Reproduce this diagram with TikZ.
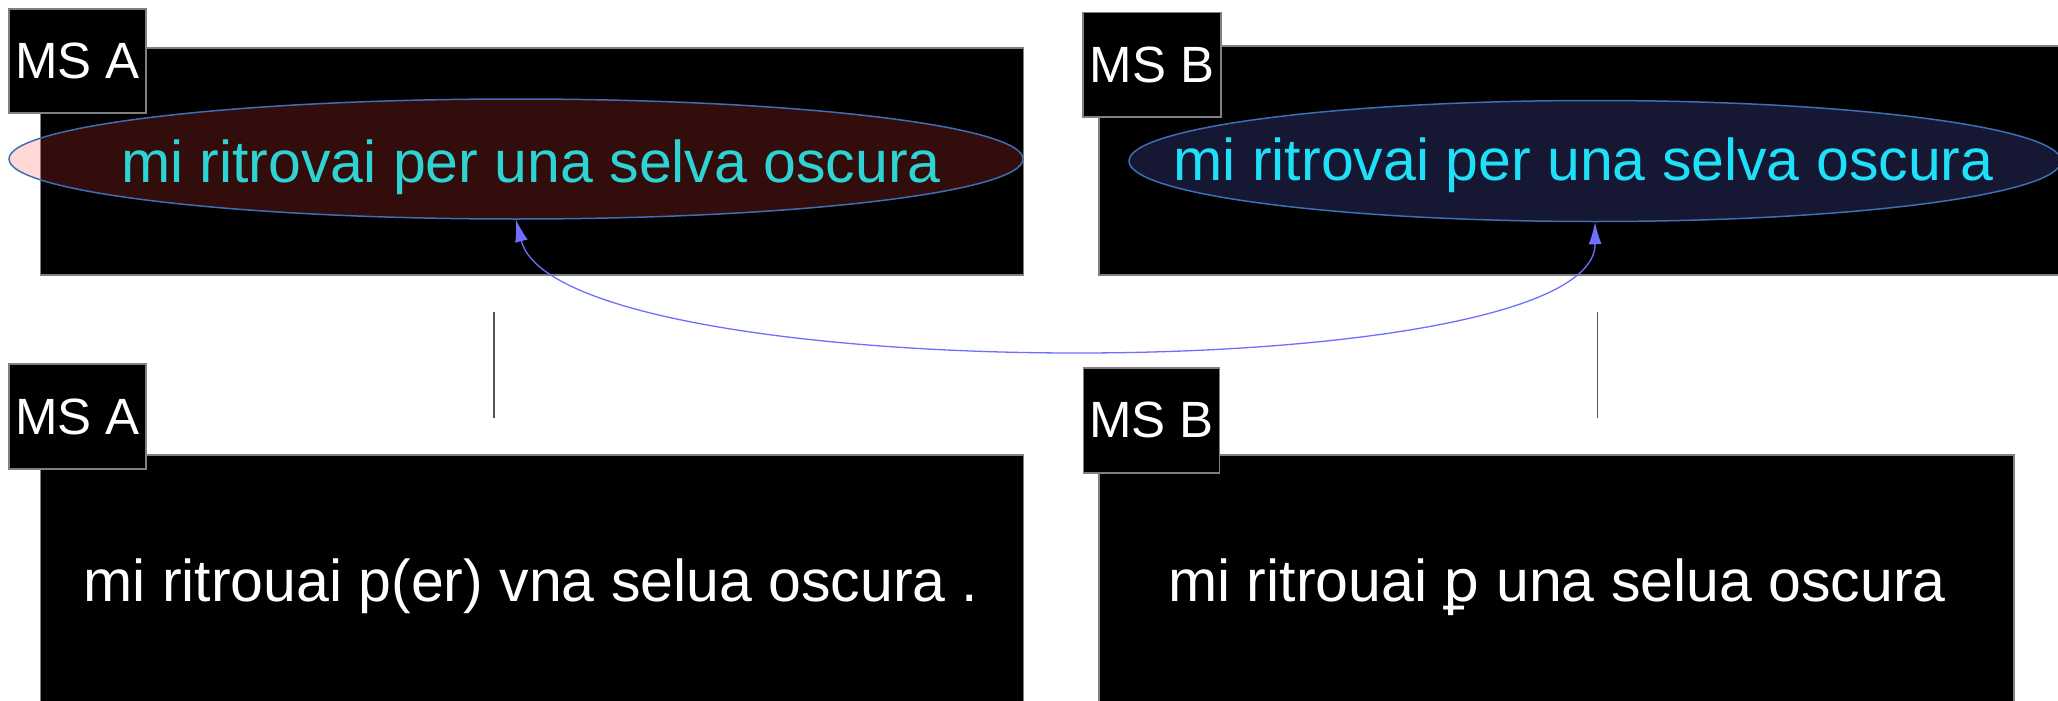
\documentclass[tikz,border=0pt]{standalone}
\usepackage{fontspec}
\setmainfont{Liberation Sans}
\newfontfamily\medfont{Noto Sans}
\usetikzlibrary{arrows.meta,shapes.geometric}

\definecolor{boxline}{RGB}{128,128,128}
\definecolor{ringline}{RGB}{61,111,181}
\definecolor{redfill}{RGB}{255,60,60}
\definecolor{bluefill}{RGB}{105,115,255}
\definecolor{textA}{RGB}{46,211,211}
\definecolor{textB}{RGB}{30,224,248}
\definecolor{linkline}{RGB}{110,110,255}
\definecolor{tickline}{RGB}{85,85,85}

\tikzset{
  panel/.style={draw=boxline, line width=1.5pt, fill=black, inner sep=0pt},
  tag/.style={draw=boxline, line width=1.5pt, fill=black, text=white, inner sep=0pt,
    font=\fontsize{51}{60}\selectfont},
  reading/.style={ellipse, draw=ringline, line width=1.5pt, fill opacity=0.2,
    text opacity=1, inner sep=0pt},
  verse/.style={anchor=base, inner sep=0pt, font=\fontsize{59}{70}\selectfont},
  link/.style={draw=linkline, line width=1.3pt,
    {Latex[length=22pt,width=13pt,fill=linkline]}-{Latex[length=22pt,width=13pt,fill=linkline]}},
  tick/.style={draw=tickline, line width=1.2pt}
}

\begin{document}
\begin{tikzpicture}[x=1pt, y=-1pt]
\useasboundingbox (0,0) rectangle (2058,701);
\clip (0,0) rectangle (2058,701);

% upper row: normalised readings
\node[panel, minimum width=983pt, minimum height=227pt] (pa) at (532,161.5) {};
\node[panel, minimum width=976pt, minimum height=229pt] (pb) at (1587,160.5) {};
\node[tag, minimum width=137pt, minimum height=104pt] (ta) at (77.5,61) {MS A};
\node[tag, minimum width=138pt, minimum height=104.5pt] (tb) at (1152,64.8) {MS B};
\node[reading, fill=redfill, minimum width=1014pt, minimum height=120pt] (ea) at (516,159) {};
\node[reading, fill=bluefill, minimum width=932pt, minimum height=121pt] (eb) at (1595,161) {};
\node[verse, text=textA] (va) at (531,182) {mi ritrovai per una selva oscura};
\node[verse, text=textB] (vb) at (1583.5,180) {mi ritrovai per una selva oscura};

% lower row: diplomatic transcriptions
\node[panel, minimum width=983pt, minimum height=265pt] (qa) at (532,587.5) {};
\node[panel, minimum width=915pt, minimum height=265pt] (qb) at (1556.5,587.5) {};
\node[tag, minimum width=137pt, minimum height=105pt] (sa) at (77.7,416.5) {MS A};
\node[tag, minimum width=136pt, minimum height=104.7pt] (sb) at (1151.5,420.4) {MS B};
\node[verse, text=white] (da) at (531,601) {mi ritrouai p(er) vna selua oscura .};
\node[verse, text=white] (db) at (1557,601) {mi ritrouai {\medfont ꝑ} una selua oscura};

% ties between the rows
\coordinate (ua) at (494,312);
\coordinate (la) at (494,418);
\coordinate (ub) at (1597.6,312);
\coordinate (lb) at (1597.6,418);
\draw[tick] (ua) -- (la);
\draw[tick] (ub) -- (lb);

% alignment link between the two readings
\draw[link] (ea.south) .. controls (559,390) and (1596,390) .. (eb.south);
\end{tikzpicture}
\end{document}
